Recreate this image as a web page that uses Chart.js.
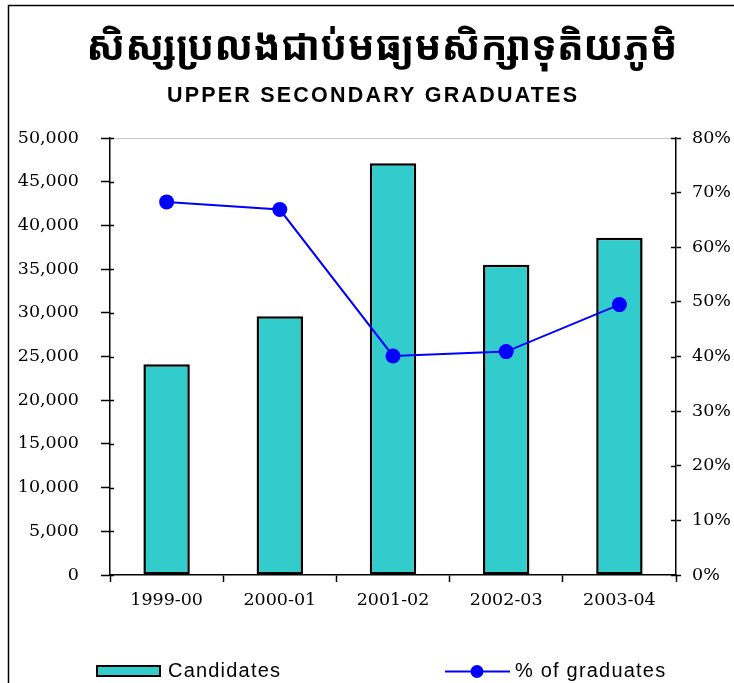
<!DOCTYPE html>
<html>
<head>
<meta charset="utf-8">
<script src="https://cdn.jsdelivr.net/npm/chart.js@4/dist/chart.umd.min.js"></script>
<style>
  html, body { margin: 0; padding: 0; background: #fff; }
  #wrap { position: relative; width: 734px; height: 683px; }
  canvas { display: block; }
</style>
</head>
<body>
<div id="wrap"><canvas id="c" width="734" height="683"></canvas></div>
<script>
// ---- data ----
const categories = ['1999-00', '2000-01', '2001-02', '2002-03', '2003-04'];
const candidates = [24100, 29600, 47100, 35500, 38600];
const pctGraduates = [68.3, 66.9, 40.1, 40.9, 49.5];
const leftTicks = [0, 5000, 10000, 15000, 20000, 25000, 30000, 35000, 40000, 45000, 50000];
const rightTicks = [0, 10, 20, 30, 40, 50, 60, 70, 80];
const titleKh = 'សិស្សប្រលងជាប់មធ្យមសិក្សាទុតិយភូមិ';
const titleEn = 'UPPER SECONDARY GRADUATES';
const seriesLabels = ['Candidates', '% of graduates'];

const fmt = v => String(v).replace(/\B(?=(\d{3})+(?!\d))/g, ',');
const tickFont = { family: 'DejaVu Serif', size: 17.5 };

const decor = {
  id: 'decor',
  beforeDraw(chart) {
    const ctx = chart.ctx;
    ctx.save();
    ctx.fillStyle = '#fff';
    ctx.fillRect(0, 0, chart.width, chart.height);
    // outer frame (top + left)
    ctx.strokeStyle = '#000';
    ctx.lineWidth = 1.5;
    ctx.beginPath();
    ctx.moveTo(8.5, 683); ctx.lineTo(8.5, 5.5); ctx.lineTo(734, 5.5);
    ctx.stroke();
    // plot area top border
    const a = chart.chartArea;
    ctx.strokeStyle = '#c8c8c8';
    ctx.lineWidth = 1;
    ctx.beginPath();
    ctx.moveTo(a.left, a.top + 0.5); ctx.lineTo(a.right, a.top + 0.5);
    ctx.stroke();
    // titles
    ctx.fillStyle = '#000';
    ctx.textAlign = 'center';
    ctx.textBaseline = 'middle';
    ctx.font = 'bold 40px "Noto Sans Khmer", "Khmer OS", "Noto Sans", serif';
    ctx.fillText(titleKh, 382, 49);
    ctx.textAlign = 'left';
    ctx.textBaseline = 'alphabetic';
    ctx.font = 'bold 21.5px "Liberation Sans", Arial, sans-serif';
    if ('letterSpacing' in ctx) ctx.letterSpacing = '2.2px';
    ctx.fillText(titleEn, 167, 102);
    if ('letterSpacing' in ctx) ctx.letterSpacing = '0px';
    ctx.restore();
  },
  afterDraw(chart) {
    const ctx = chart.ctx;
    ctx.save();
    // inner tick stubs
    ctx.strokeStyle = '#000';
    ctx.lineWidth = 1.5;
    const y = chart.scales.y, y1 = chart.scales.y1, x = chart.scales.x;
    y.ticks.forEach(t => {
      const p = Math.round(y.getPixelForValue(t.value)) + 0.5;
      ctx.beginPath(); ctx.moveTo(y.right, p); ctx.lineTo(y.right + 4, p); ctx.stroke();
    });
    y1.ticks.forEach(t => {
      const p = Math.round(y1.getPixelForValue(t.value)) + 0.5;
      ctx.beginPath(); ctx.moveTo(y1.left - 5, p); ctx.lineTo(y1.left, p); ctx.stroke();
    });
    // legend
    const ds0 = chart.data.datasets[0], ds1 = chart.data.datasets[1];
    ctx.fillStyle = ds0.backgroundColor;
    ctx.fillRect(97, 666, 63, 10);
    ctx.strokeStyle = '#000';
    ctx.lineWidth = 2;
    ctx.strokeRect(97, 666, 63, 10);
    ctx.fillStyle = '#000';
    ctx.font = '20px "Liberation Sans", Arial, sans-serif';
    ctx.textAlign = 'left';
    ctx.textBaseline = 'alphabetic';
    if ('letterSpacing' in ctx) ctx.letterSpacing = '1.2px';
    ctx.fillText(ds0.label, 168, 677);
    ctx.fillText(ds1.label, 515, 677);
    if ('letterSpacing' in ctx) ctx.letterSpacing = '0px';
    ctx.strokeStyle = ds1.borderColor;
    ctx.lineWidth = 2;
    ctx.beginPath(); ctx.moveTo(445, 671.5); ctx.lineTo(510, 671.5); ctx.stroke();
    ctx.fillStyle = ds1.pointBackgroundColor;
    ctx.beginPath(); ctx.arc(477, 671.5, 6.5, 0, Math.PI * 2); ctx.fill();
    ctx.restore();
  }
};

new Chart(document.getElementById('c'), {
  data: {
    labels: categories,
    datasets: [
      {
        type: 'bar',
        label: seriesLabels[0],
        data: candidates,
        yAxisID: 'y',
        backgroundColor: '#33CCCC',
        borderColor: '#000',
        borderWidth: 2.5,
        borderSkipped: false,
        categoryPercentage: 1.0,
        barPercentage: 0.41,
        order: 2
      },
      {
        type: 'line',
        label: seriesLabels[1],
        data: pctGraduates,
        yAxisID: 'y1',
        borderColor: '#0000FF',
        backgroundColor: '#0000FF',
        pointBackgroundColor: '#0000FF',
        pointBorderWidth: 0,
        pointRadius: 7.5,
        borderWidth: 2,
        tension: 0,
        fill: false,
        order: 1
      }
    ]
  },
  options: {
    responsive: false,
    animation: false,
    devicePixelRatio: 1,
    layout: { padding: { top: 138, left: 0, right: 0, bottom: 0 } },
    plugins: { legend: { display: false }, title: { display: false }, tooltip: { enabled: false } },
    scales: {
      x: {
        offset: true,
        grid: { offset: true, drawOnChartArea: false, drawTicks: true, tickLength: 7, color: '#000', tickWidth: 1.5 },
        border: { display: true, color: '#000', width: 1.5 },
        ticks: { font: tickFont, color: '#000', padding: 8, maxRotation: 0, autoSkip: false },
        afterFit(s) { s.height = 108; s.paddingLeft = 0; s.paddingRight = 0; }
      },
      y: {
        position: 'left',
        min: 0, max: 50000,
        afterBuildTicks(s) { s.ticks = leftTicks.map(v => ({ value: v })); },
        ticks: { font: tickFont, color: '#000', padding: 22, callback: v => fmt(v) },
        grid: { drawOnChartArea: false, tickLength: 9, color: '#000', tickWidth: 1.5 },
        border: { display: true, color: '#000', width: 1.5 },
        afterFit(s) { s.width = 110; s.paddingTop = 0; s.paddingBottom = 0; }
      },
      y1: {
        position: 'right',
        min: 0, max: 80,
        afterBuildTicks(s) { s.ticks = rightTicks.map(v => ({ value: v })); },
        ticks: { font: tickFont, color: '#000', padding: 11, callback: v => v + '%' },
        grid: { drawOnChartArea: false, tickLength: 5, color: '#000', tickWidth: 1.5 },
        border: { display: true, color: '#000', width: 1.5 },
        afterFit(s) { s.width = 58; s.paddingTop = 0; s.paddingBottom = 0; }
      }
    }
  },
  plugins: [decor]
});
</script>
</body>
</html>
